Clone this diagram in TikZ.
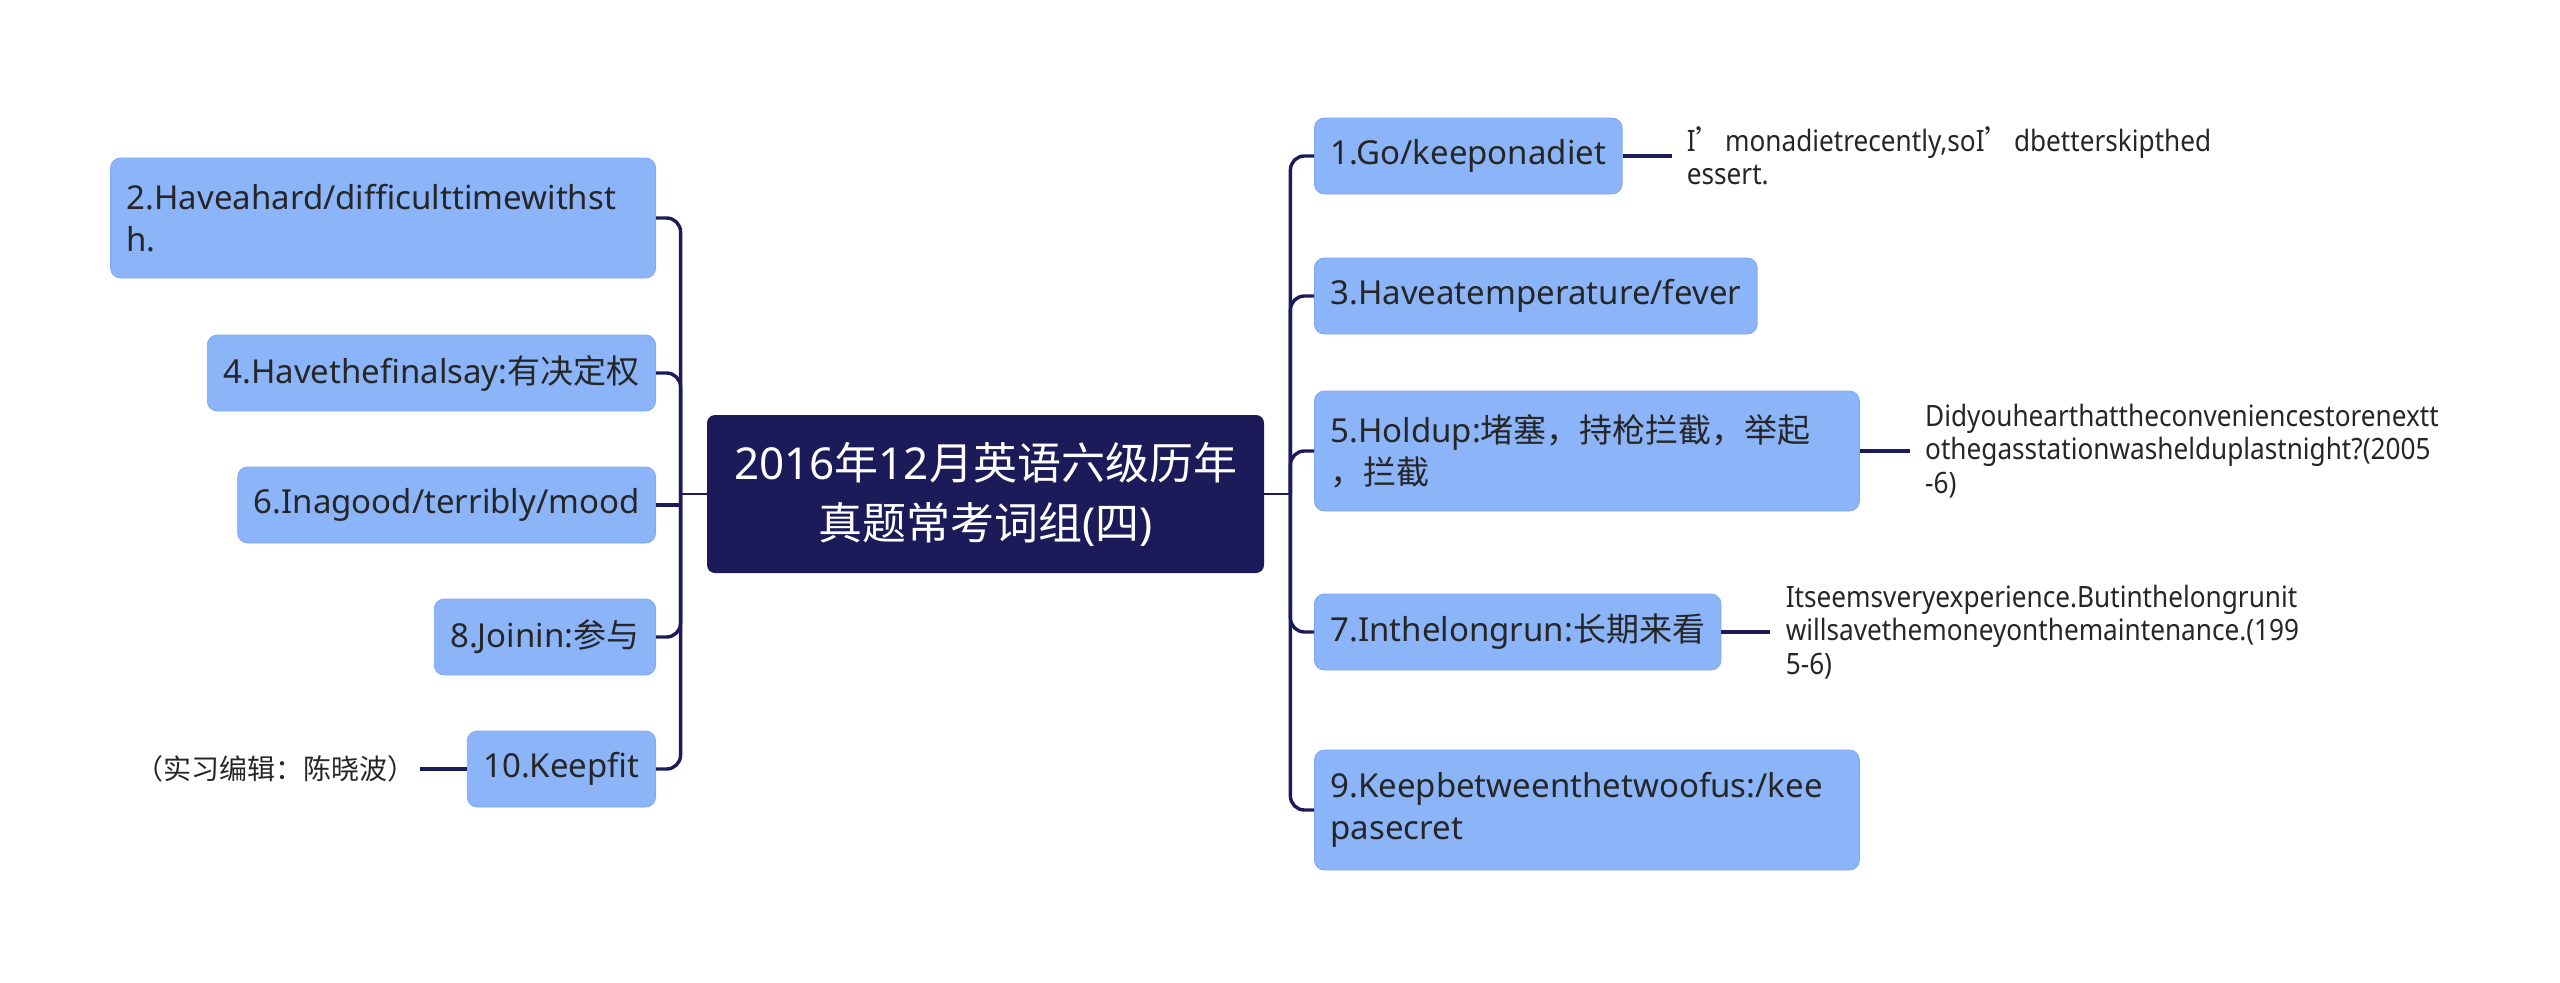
\documentclass[tikz,border=0pt]{standalone}
\usepackage{fontspec}
\setmainfont{Noto Sans}
\newfontfamily\cjk{Noto Sans CJK SC}
\newfontfamily\notefont[FakeStretch=0.89]{Noto Sans}
\newcommand{\zh}[1]{{\cjk #1}}
\usepackage{tikz}
\usetikzlibrary{positioning}
\usepackage{xcolor}
\definecolor{navy}{HTML}{1C1B5A}
\definecolor{topicblue}{HTML}{8BB4F9}
\definecolor{topicedge}{HTML}{7EA9F2}
\definecolor{inktext}{HTML}{262626}

\begin{document}
\begin{tikzpicture}[
    x=0.5pt, y=-0.5pt,
    root/.style={rectangle, rounded corners=4pt, fill=navy, text=white, minimum width=278.5pt, minimum height=79pt, align=center, font=\fontsize{22}{30}\selectfont},
    topic/.style={rectangle, rounded corners=5pt, fill=topicblue, draw=topicedge, line width=0.4pt, text=inktext, inner xsep=8pt, minimum height=38pt, font=\fontsize{16.5}{21}\selectfont},
    wide/.style={topic, text width=256.5pt, align=left, minimum height=60pt},
    note/.style={inner xsep=7.5pt, inner ysep=0pt, align=left, text=inktext, font=\notefont\fontsize{14.7}{16.7}\selectfont},
    link/.style={draw=navy, line width=1pt},
    branch/.style={draw=navy, line width=1.7pt, rounded corners=7pt},
]
\useasboundingbox (0,0) rectangle (2560,982);

% central topic
\node[root] (root) at (985.5,494) {2016\zh{年}12\zh{月英语六级历年}\\\zh{真题常考词组}(\zh{四})};

% left side
\node[wide, anchor=east] (n2) at (656,218) {2.Haveahard/difficulttimewithst\\h.};
\node[topic, anchor=east] (n4) at (656,373) {4.Havethefinalsay:\zh{有决定权}};
\node[topic, anchor=east] (n6) at (656,505) {6.Inagood/terribly/mood};
\node[topic, anchor=east] (n8) at (656,637) {8.Joinin:\zh{参与}};
\node[topic, anchor=east] (n10) at (656,769) {10.Keepfit};

% right side
\node[topic, anchor=west] (n1) at (1314,156) {1.Go/keeponadiet};
\node[topic, anchor=west] (n3) at (1314,296) {3.Haveatemperature/fever};
\node[wide, anchor=west] (n5) at (1314,451) {5.Holdup:\zh{堵塞，持枪拦截，举起}\\\zh{，拦截}};
\node[topic, anchor=west] (n7) at (1314,632) {7.Inthelongrun:\zh{长期来看}};
\node[wide, anchor=west] (n9) at (1314,810) {9.Keepbetweenthetwoofus:/kee\\pasecret};

% notes
\node[note, right=24.5pt of n1] (d1) {I\zh{’}monadietrecently,soI\zh{’}dbetterskipthed\\essert.};
\node[note, right=25pt of n5] (d5) {Didyouhearthattheconveniencestorenextt\\othegasstationwashelduplastnight?(2005\\-6)};
\node[note, right=24.5pt of n7] (d7) {Itseemsveryexperience.Butinthelongrunit\\willsavethemoneyonthemaintenance.(199\\5-6)};
\node[note, inner xsep=2pt, left=23.5pt of n10, font=\fontsize{14}{17}\selectfont] (d10) {\zh{（实习编辑：陈晓波）}};

% connectors
\coordinate[left=13pt of root.west] (jl);
\coordinate[right=13pt of root.east] (jr);
\draw[link] (root.west) -- (jl);
\draw[link] (root.east) -- (jr);
\foreach \kid in {n2,n4,n8,n10}
    \draw[branch] (jl) |- (\kid.east);
\draw[branch, sharp corners] (jl) |- (n6.east);
\foreach \kid in {n1,n3,n5,n7,n9}
    \draw[branch] (jr) |- (\kid.west);
\draw[branch] (n1.east) -- (d1.west);
\draw[branch] (n5.east) -- (d5.west);
\draw[branch] (n7.east) -- (d7.west);
\draw[branch] (n10.west) -- (d10.east);
\end{tikzpicture}
\end{document}
